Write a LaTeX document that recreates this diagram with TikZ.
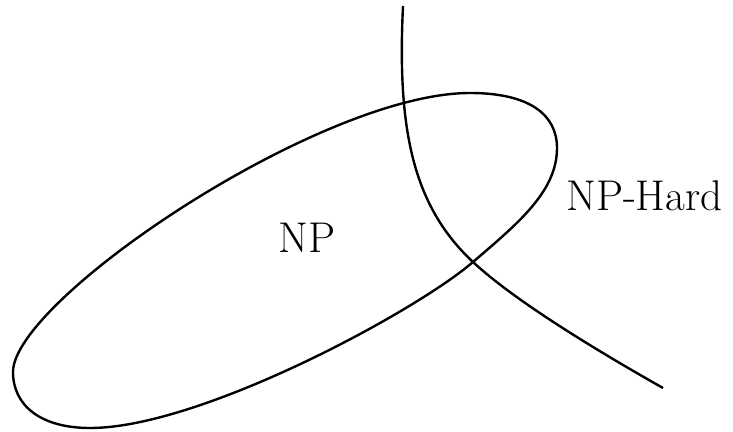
\documentclass[tikz,border=0pt]{standalone}
\usepackage{tikz}
\usetikzlibrary{calc, positioning}

\begin{document}
\begin{tikzpicture}[x=1pt, y=-1pt, line width=2.4pt, line join=round,
    nhan/.style={inner sep=0pt, font=\fontsize{43}{47}\selectfont}]
    % Khung hình giữ đúng tỉ lệ
    \useasboundingbox (0,0) rectangle (733,431);

    % Miền NP: đường cong kín hình quả trứng
    \coordinate (trai) at (13,372);
    \coordinate (dinh) at (470,93);
    \coordinate (phai) at (557,148);
    \coordinate (giao) at (473,262);
    \coordinate (day) at (90,428);
    \draw (trai) .. controls (13,300) and (320,93) .. (dinh)
          .. controls (530,93) and (557,115) .. (phai)
          .. controls (557,192) and (517,224) .. (giao)
          .. controls (415,312) and (200,428) .. (day)
          .. controls (40,428) and (13,405) .. cycle;

    % Đường biên của NP-Hard
    \coordinate (tren) at (403,6);
    \coordinate (cuoi) at (663,388);
    \draw (tren) .. controls (397,130) and (413,206) .. (giao)
          .. controls (518,304) and (610,358) .. (cuoi);

    % Các nhãn
    \node[nhan, anchor=base] (np) at (307,252) {NP};
    \node[nhan, anchor=base west] (nphard) at (565,210) {NP-Hard};
\end{tikzpicture}
\end{document}
